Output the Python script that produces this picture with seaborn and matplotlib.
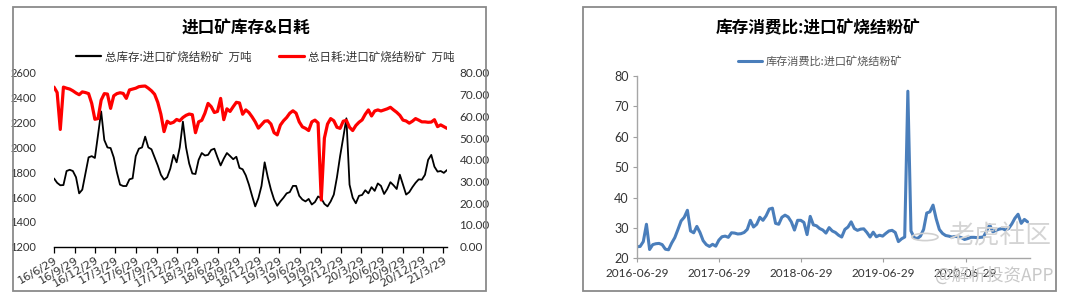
import matplotlib
matplotlib.use('Agg')
import matplotlib.pyplot as plt
import matplotlib.ticker as mticker
from matplotlib.patches import Rectangle, Circle
from matplotlib.lines import Line2D
import seaborn as sns
import pandas as pd

sns.set_theme(style='white')
plt.rcParams['font.family'] = ['Noto Sans CJK SC', 'DejaVu Sans']
NUMFONT = ['Lato', 'DejaVu Sans']

# ---------------- data ----------------
dates = pd.date_range('2016-06-29', periods=126, freq='14D')

inventory = [
    1750, 1715, 1695, 1697, 1810, 1820, 1810, 1760, 1630, 1660,
    1790, 1920, 1930, 1915, 2100, 2290, 2060, 2000, 1995, 1920,
    1800, 1700, 1689, 1689, 1743, 1751, 1930, 1990, 2000, 2087,
    2000, 1985, 1920, 1855, 1780, 1740, 1760, 1830, 1940, 1880,
    2000, 2208, 2000, 1870, 1790, 1786, 1900, 1955, 1935, 1940,
    1980, 1990, 1920, 1855, 1910, 1955, 1931, 1905, 1925, 1835,
    1824, 1775, 1700, 1610, 1525, 1590, 1690, 1880, 1760, 1660,
    1580, 1530, 1565, 1595, 1630, 1640, 1690, 1690, 1610, 1580,
    1565, 1585, 1540, 1560, 1605, 1590, 1545, 1525, 1565, 1620,
    1760, 1930, 2080, 2235, 1700, 1595, 1550, 1610, 1617, 1655,
    1630, 1680, 1650, 1710, 1690, 1625, 1665, 1720, 1695, 1665,
    1780, 1700, 1620, 1640, 1680, 1715, 1743, 1740, 1780, 1900,
    1940, 1845, 1805, 1810, 1795, 1818,
]

consumption = [
    73.5, 71.0, 54.0, 73.5, 73.0, 72.6, 71.8, 70.8, 70.0, 71.3,
    71.0, 70.5, 66.0, 58.7, 59.0, 67.5, 70.5, 70.3, 63.7, 69.5,
    70.5, 70.9, 70.6, 68.3, 72.2, 72.6, 73.0, 73.7, 73.9, 74.0,
    73.0, 71.8, 70.2, 66.5, 61.0, 53.0, 57.8, 56.8, 57.3, 58.6,
    58.0, 59.5, 60.5, 61.1, 60.8, 52.5, 57.5, 58.2, 61.5, 66.0,
    64.5, 61.8, 62.3, 68.3, 58.5, 63.5, 62.3, 64.5, 66.5, 66.2,
    61.0, 63.0, 61.8, 59.8, 57.5, 54.6, 56.2, 57.8, 58.0, 56.5,
    52.5, 51.5, 56.0, 58.0, 59.5, 61.5, 62.6, 61.5, 57.5, 55.2,
    54.5, 53.5, 57.5, 58.3, 57.0, 21.5, 50.0, 56.5, 59.0, 58.0,
    55.0, 54.5, 57.8, 58.2, 55.0, 53.5, 55.8, 57.3, 58.4, 61.0,
    63.0, 60.2, 62.5, 63.0, 62.5, 63.0, 63.5, 64.2, 63.0, 61.9,
    60.5, 58.3, 57.9, 56.9, 57.8, 59.0, 58.3, 57.5, 57.5, 57.3,
    57.4, 58.5, 55.3, 56.1, 55.3, 54.5,
]

ratio = [
    23.8, 23.9, 25.5, 31.2, 22.9, 24.5, 24.8, 24.9, 24.5, 23.0,
    22.8, 25.0, 26.8, 29.5, 32.3, 33.5, 35.8, 29.0, 28.4, 30.5,
    28.5, 25.8, 24.5, 23.9, 24.6, 24.0, 26.0, 27.1, 27.3, 26.9,
    28.4, 28.3, 28.0, 28.1, 28.5, 29.5, 32.5, 30.3, 31.2, 33.5,
    32.5, 34.0, 36.2, 36.5, 31.5, 31.2, 33.5, 34.2, 33.6, 32.0,
    29.3, 32.5, 32.5, 31.8, 27.8, 33.8, 31.0, 30.7, 29.8, 29.3,
    28.3, 30.1, 29.0, 28.5, 27.6, 27.0, 29.5, 30.3, 32.0, 29.8,
    29.2, 29.6, 29.7, 28.5, 27.0, 28.6, 27.1, 27.6, 27.3, 28.2,
    29.0, 29.2, 28.5, 25.5, 26.4, 27.0, 75.0, 29.0, 26.8, 26.5,
    27.3, 29.5, 34.9, 35.3, 37.5, 33.0, 29.5, 28.2, 27.5, 27.3,
    27.0, 27.2, 27.1, 26.8, 26.2, 26.5, 26.9, 26.9, 26.8, 26.9,
    27.0, 29.0, 31.0, 28.7, 29.2, 29.6, 29.8, 29.3, 29.8, 31.3,
    33.2, 34.5, 31.5, 32.8, 32.0,
]

left_tick_labels = ['16/6/29', '16/9/29', '16/12/29', '17/3/29', '17/6/29', '17/9/29',
                    '17/12/29', '18/3/29', '18/6/29', '18/9/29', '18/12/29', '19/3/29',
                    '19/6/29', '19/9/29', '19/12/29', '20/3/29', '20/6/29', '20/9/29',
                    '20/12/29', '21/3/29']
right_tick_labels = ['2016-06-29', '2017-06-29', '2018-06-29', '2019-06-29', '2020-06-29']

title_left = '进口矿库存&日耗'
title_right = '库存消费比:进口矿烧结粉矿'
label_inv = '总库存:进口矿烧结粉矿  万吨'
label_cons = '总日耗:进口矿烧结粉矿  万吨'
label_ratio = '库存消费比:进口矿烧结粉矿'

df_left = pd.DataFrame({'date': dates, 'inventory': inventory, 'consumption': consumption})
df_right = pd.DataFrame({'date': dates[:len(ratio)], 'ratio': ratio})

W, H = 1080, 300
fig = plt.figure(figsize=(W / 100, H / 100), dpi=100)
fig.patch.set_facecolor('white')

def fx(px):
    return px / W

def fy(py):
    return 1 - py / H

# panel borders
for x0, x1 in [(13, 486), (583, 1056)]:
    fig.patches.append(Rectangle((fx(x0), fy(291)), fx(x1 - x0), (291 - 7) / H,
                                 transform=fig.transFigure, fill=False,
                                 edgecolor='#8a8a8a', lw=1.3))

# ---------------- left chart ----------------
ax1 = fig.add_axes([fx(54), fy(246.7), fx(447 - 54), (246.7 - 73) / H])
sns.lineplot(data=df_left, x='date', y='inventory', ax=ax1, color='black', lw=1.3)
ax1.set_ylim(1200, 2600)
ax1.set_yticks(range(1200, 2601, 200))
ax1.set_xlim(dates[0], dates[-1])
ltick_dates = pd.to_datetime(left_tick_labels, format='%y/%m/%d')
ax1.set_xticks(ltick_dates)
ax1.set_xticklabels(left_tick_labels, rotation=30, ha='right', rotation_mode='anchor',
                    fontsize=8.2, color='#333333', family=['DejaVu Sans'])
for lab in ax1.get_yticklabels():
    lab.set_family(NUMFONT)
ax1.tick_params(axis='y', length=0, pad=13, labelsize=8, labelcolor='#333333')
ax1.tick_params(axis='x', length=4, width=0.9, color='black', direction='out', pad=2, bottom=True)
for s in ['left', 'right', 'top']:
    ax1.spines[s].set_visible(False)
ax1.spines['bottom'].set_color('black')
ax1.spines['bottom'].set_linewidth(1.0)
ax1.set_xlabel('')
ax1.set_ylabel('')
ax1.patch.set_alpha(0)

ax2 = ax1.twinx()
sns.lineplot(data=df_left, x='date', y='consumption', ax=ax2, color='#ff0000', lw=2.3)
ax2.set_ylim(0, 80)
ax2.set_yticks(range(0, 81, 10))
ax2.yaxis.set_major_formatter(mticker.FuncFormatter(lambda v, p: f'{v:.2f}'))
for lab in ax2.get_yticklabels():
    lab.set_family(NUMFONT)
ax2.tick_params(axis='y', length=0, pad=9, labelsize=8.5, labelcolor='#333333')
for s in ['left', 'right', 'top', 'bottom']:
    ax2.spines[s].set_visible(False)
ax2.set_ylabel('')
ax2.set_xlim(dates[0], dates[-1])

fig.text(fx(246), fy(29), title_left, ha='center', va='center', fontsize=12,
         fontweight='bold', color='black')
h1 = [Line2D([], [], color='black', lw=1.6), Line2D([], [], color='#ff0000', lw=2.3)]
fig.legend(h1, [label_inv, label_cons], loc='center', bbox_to_anchor=(fx(265), fy(57)),
           ncol=2, frameon=False, fontsize=8.3, handlelength=2.2, handletextpad=0.3,
           columnspacing=2.4, labelcolor='#333333')

# ---------------- right chart ----------------
ax3 = fig.add_axes([fx(637), fy(258.3), fx(1030 - 637), (258.3 - 76) / H])
sns.lineplot(data=df_right, x='date', y='ratio', ax=ax3, color='#4a7ebb', lw=2.2)
ax3.set_ylim(20, 80)
ax3.set_yticks(range(20, 81, 10))
ax3.set_xlim(pd.Timestamp('2016-06-29'), pd.Timestamp('2021-04-11'))
rtick_dates = pd.to_datetime(right_tick_labels)
ax3.set_xticks(rtick_dates)
ax3.set_xticklabels(right_tick_labels, fontsize=8.5, color='#333333', family=NUMFONT)
for lab in ax3.get_yticklabels():
    lab.set_family(NUMFONT)
ax3.tick_params(axis='y', length=3, width=0.8, color='#a0a0a0', direction='out',
                pad=3, labelsize=9, labelcolor='#333333', left=True)
ax3.tick_params(axis='x', length=3, width=0.8, color='#a0a0a0', direction='out',
                pad=4, bottom=True)
for s in ['right', 'top']:
    ax3.spines[s].set_visible(False)
for s in ['left', 'bottom']:
    ax3.spines[s].set_color('#a6a6a6')
    ax3.spines[s].set_linewidth(1.0)
ax3.set_xlabel('')
ax3.set_ylabel('')

fig.text(fx(818), fy(28), title_right, ha='center', va='center', fontsize=12,
         fontweight='bold', color='black')
h3 = [Line2D([], [], color='#4a7ebb', lw=2.2)]
fig.legend(h3, [label_ratio], loc='center', bbox_to_anchor=(fx(820), fy(61)),
           ncol=1, frameon=False, fontsize=8, handlelength=2.2, handletextpad=0.3,
           labelcolor='#555555')

# watermark
fig.patches.append(Circle((fx(925), fy(237)), 13 / W, transform=fig.transFigure,
                          fill=False, edgecolor='#d0d0d0', lw=1.2))
fig.text(fx(1000), fy(236), '老虎社区', ha='center', va='center', fontsize=18.5,
         color='#d4d4d4')
fig.text(fx(994), fy(276), '@解析投资APP', ha='center', va='center', fontsize=12.5,
         color='#c8c8c8')

fig.savefig('out.png', dpi=100, facecolor='white')
